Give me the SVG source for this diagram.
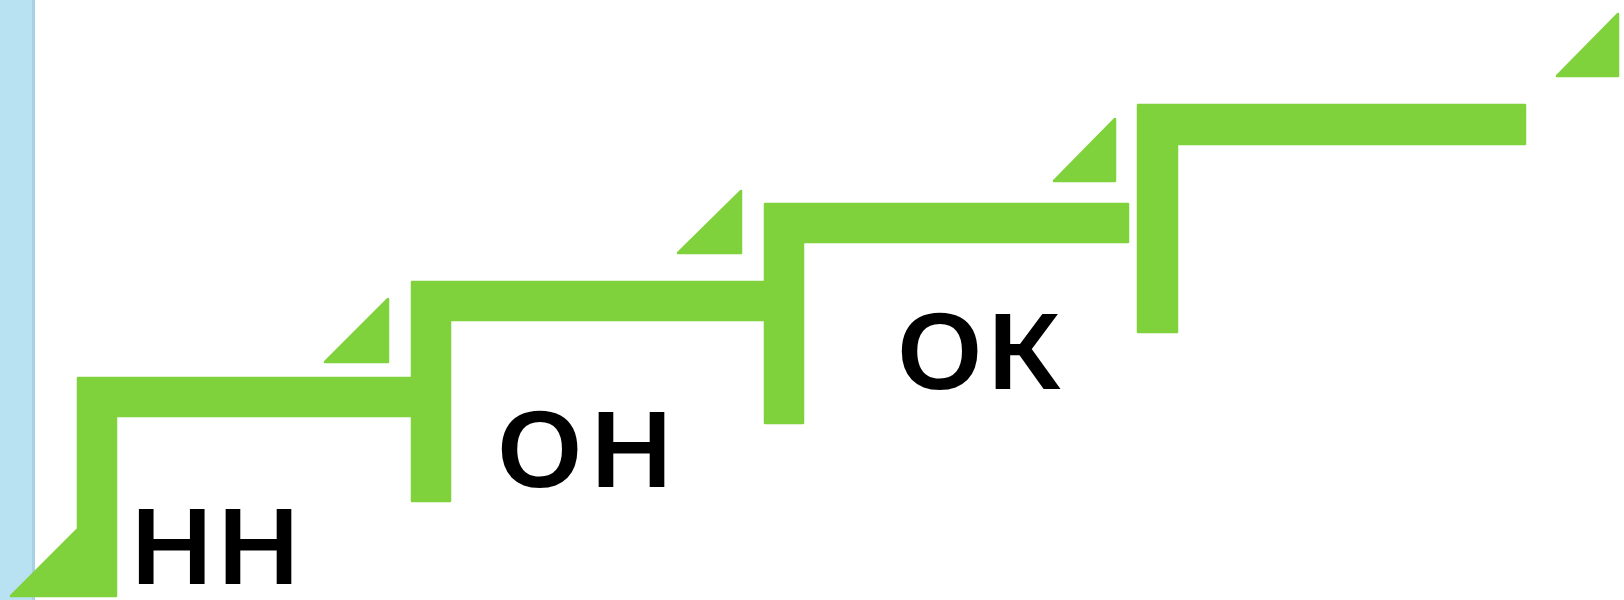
<svg xmlns="http://www.w3.org/2000/svg" width="1624" height="600" viewBox="0 0 1624 600">
<style>
.g{fill:#7fd23c;stroke:#7fd23c;stroke-width:2.5;stroke-linejoin:round}
.t{font-family:"Noto Sans","Liberation Sans",sans-serif;font-weight:600;font-size:104px;fill:#000}
</style>
<rect width="1624" height="600" fill="#fff"/>
<g id="stripe">
<rect x="0" y="0" width="35" height="600" fill="#b8e2f2"/>
<rect x="32" y="0" width="3" height="600" fill="#a6d2e4"/>
</g>
<g id="connectors">
<polygon id="step1" class="g" points="11,596 78,529 78,378 411,378 411,416 116,416 116,596"/>
<polygon id="step2" class="g" points="412,501 412,282 764,282 764,320 450,320 450,501"/>
<polygon id="step3" class="g" points="765,423 765,204 1128,204 1128,242 803,242 803,423"/>
<polygon id="step4" class="g" points="1138,332 1138,105 1525,105 1525,144 1177,144 1177,332"/>
</g>
<g id="t2"><polygon class="g" points="388,299 325,362 388,362"/></g>
<g id="t3"><polygon class="g" points="741,191 678,253 741,253"/></g>
<g id="t4"><polygon class="g" points="1115,119 1054,181 1115,181"/></g>
<g id="t5"><polygon class="g" points="1618,14 1557,76 1618,76"/></g>
<g id="n1"><text class="t" transform="scale(1.1,1)" x="116.5 195.5" y="584">НН</text></g>
<g id="n2"><text class="t" transform="scale(1.1,1)" x="450.4 534.6" y="487">ОН</text></g>
<g id="n3"><text class="t" transform="scale(1.1,1)" x="814 895.5" y="389">ОК</text></g>
</svg>
